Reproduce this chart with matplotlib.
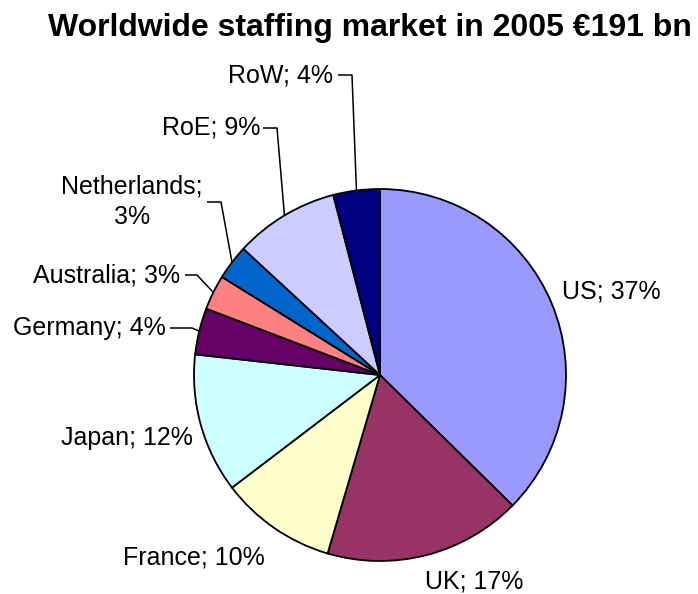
import matplotlib
matplotlib.use("Agg")
import matplotlib.pyplot as plt
import numpy as np

plt.rcParams["font.family"] = ["Liberation Sans", "DejaVu Sans"]

regions = ["US", "UK", "France", "Japan", "Germany", "Australia", "Netherlands", "RoE", "RoW"]
shares = [37, 17, 10, 12, 4, 3, 3, 9, 4]
colors = ["#9999FF", "#993366", "#FFFFCC", "#CCFFFF", "#660066",
          "#FF8080", "#0066CC", "#CCCCFF", "#000080"]
title = "Worldwide staffing market in 2005 \u20ac191 bn"

W, H = 698, 594
cx, cy, rad = 380, H - 375, 186

# label placement in pixel units (x, y from top, alignment, elbow x or None)
label_pos = {
    "US": (562, 292, "left", None),
    "UK": (425, 582, "left", None),
    "France": (123, 557, "left", None),
    "Japan": (61, 438, "left", None),
    "Germany": (166, 328, "right", (170, 192)),
    "Australia": (180, 275, "right", (185, 197)),
    "Netherlands": (132, 202, "center", (207, 221)),
    "RoE": (260, 128, "right", (263, 277)),
    "RoW": (333, 75, "right", (338, 352)),
}

fig = plt.figure(figsize=(W / 100, H / 100), dpi=100)
ax = fig.add_axes([0, 0, 1, 1])

wedges, _ = ax.pie(shares, colors=colors, startangle=90, counterclock=False,
                   center=(cx, cy), radius=rad,
                   wedgeprops=dict(edgecolor="black", linewidth=1.3))
ax.set_xlim(0, W)
ax.set_ylim(0, H)
ax.set_aspect("equal")
ax.axis("off")

for name, share, w in zip(regions, shares, wedges):
    x, y, ha, elbow = label_pos[name]
    if name == "Netherlands":
        txt = f"{name};\n{share}%"
    else:
        txt = f"{name}; {share}%"
    ax.text(x, H - y, txt, ha=ha, va="center", fontsize=18,
            multialignment="center", linespacing=1.35)
    if elbow is not None:
        mid = np.deg2rad((w.theta1 + w.theta2) / 2)
        ex = cx + rad * np.cos(mid)
        ey = cy + rad * np.sin(mid)
        ax.plot([elbow[0], elbow[1], ex], [H - y, H - y, ey],
                color="black", linewidth=1.1, solid_capstyle="butt")

ax.text(370, H - 28, title, ha="center", va="center",
        fontsize=23, fontweight="bold")

fig.savefig("out.png", dpi=100)
